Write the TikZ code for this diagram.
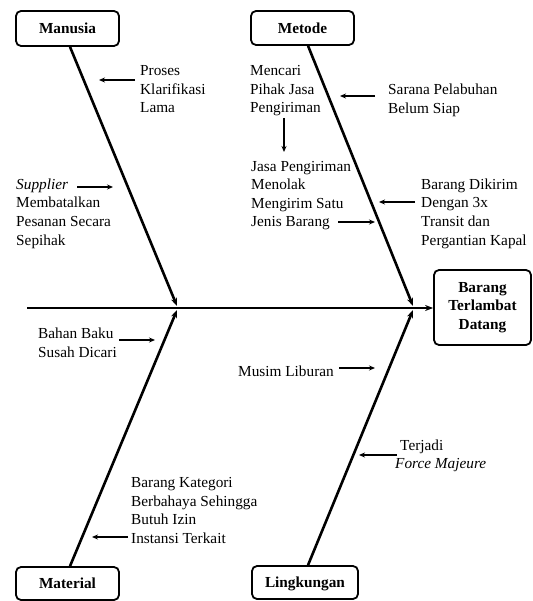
\documentclass[tikz,border=0pt]{standalone}
\usepackage{fontspec}
\setmainfont{Liberation Serif}
\usetikzlibrary{arrows.meta,calc}
\tikzset{
  catbox/.style={draw, line width=1.8pt, rounded corners=5pt, font=\fontsize{15.3}{18.5}\selectfont\bfseries, inner sep=0pt, align=center},
  bone/.style={line width=2.6pt, -{Stealth[length=8pt,width=6pt]}},
  spine/.style={line width=2.2pt, -{Stealth[length=8pt,width=6pt]}},
  cause/.style={anchor=base west, inner sep=0pt, align=left, font=\fontsize{15.3}{18.5}\selectfont},
  causearrow/.style={line width=1.2pt, -{Stealth[length=6pt,width=5pt]}}
}
\begin{document}
\begin{tikzpicture}[x=1pt,y=-1pt]
\useasboundingbox (0,0) rectangle (532,601);
% category boxes
\node[catbox, minimum width=103pt, minimum height=35pt, text height=10.5pt, text depth=0pt] (man) at (67.5,28.5) {Manusia};
\node[catbox, minimum width=103pt, minimum height=34pt, text height=10.5pt, text depth=0pt] (met) at (302.5,28) {Metode};
\node[catbox, minimum width=103pt, minimum height=33pt, text height=10.5pt, text depth=0pt] (mat) at (67.5,583.5) {Material};
\node[catbox, minimum width=106pt, minimum height=33pt, text height=10.5pt, text depth=0pt] (lin) at (305,582.5) {Lingkungan};
\node[catbox, minimum width=97pt, minimum height=75pt] (eff) at (482.5,307.5) {Barang\\Terlambat\\Datang};
% spine
\coordinate (tail) at (27,308);
\draw[spine] (tail) -- (eff.west |- tail);
% bones
\coordinate (j1u) at (177,306);
\coordinate (j1d) at (177,310);
\coordinate (j2u) at (413,306);
\coordinate (j2d) at (413,310);
\draw[bone] ($(man.south west)!0.524!(man.south east)$) -- (j1u);
\draw[bone] ($(met.south west)!0.553!(met.south east)$) -- (j2u);
\draw[bone] ($(mat.north west)!0.524!(mat.north east)$) -- (j1d);
\draw[bone] ($(lin.north west)!0.528!(lin.north east)$) -- (j2d);
% causes (anchor base = baseline of the last line)
\node[cause] (proses) at (140,113) {Proses\\Klarifikasi\\Lama};
\node[cause] (mencari) at (250,113) {Mencari\\Pihak Jasa\\Pengiriman};
\node[cause] (sarana) at (388,113.5) {Sarana Pelabuhan\\Belum Siap};
\node[cause] (supplier) at (16,245) {\textit{Supplier}\\Membatalkan\\Pesanan Secara\\Sepihak};
\node[cause] (jasa) at (251,227) {Jasa Pengiriman\\Menolak\\Mengirim Satu\\Jenis Barang};
\node[cause] (dikirim) at (421,245) {Barang Dikirim\\Dengan 3x\\Transit dan\\Pergantian Kapal};
\node[cause] (bahan) at (38,357) {Bahan Baku\\Susah Dicari};
\node[cause] (musim) at (238,376) {Musim Liburan};
\node[cause, font=\fontsize{15.3}{17.5}\selectfont] (terjadi) at (395,468) {\hspace{5pt}Terjadi\\\textit{Force Majeure}};
\node[cause] (kategori) at (131,543) {Barang Kategori\\Berbahaya Sehingga\\Butuh Izin\\Instansi Terkait};
% cause arrows
\coordinate (a1s) at (135,80);  \coordinate (a1e) at (99,80);
\coordinate (a2s) at (284,118); \coordinate (a2e) at (284,152);
\coordinate (a3s) at (375,96);  \coordinate (a3e) at (340,96);
\coordinate (a4s) at (77,187);  \coordinate (a4e) at (113,187);
\coordinate (a5s) at (338,222); \coordinate (a5e) at (375,222);
\coordinate (a6s) at (415,202); \coordinate (a6e) at (379,202);
\coordinate (a7s) at (119,340); \coordinate (a7e) at (155,340);
\coordinate (a8s) at (339,368); \coordinate (a8e) at (375,368);
\coordinate (a9s) at (397,455); \coordinate (a9e) at (359,455);
\coordinate (a10s) at (128,537); \coordinate (a10e) at (92,537);
\foreach \i in {1,...,10} {\draw[causearrow] (a\i s) -- (a\i e);}
\end{tikzpicture}
\end{document}
